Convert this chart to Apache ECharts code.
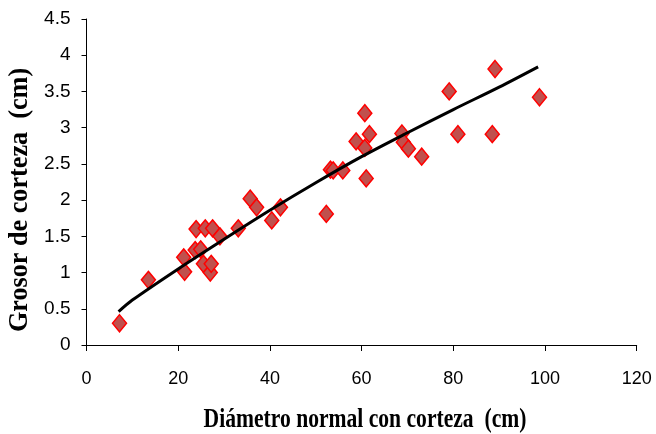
<!DOCTYPE html>
<html><head><meta charset="utf-8">
<script src="https://cdn.jsdelivr.net/npm/echarts@6/dist/echarts.min.js"></script>
<style>html,body{margin:0;padding:0;background:#fff}#c{width:656px;height:434px}</style>
</head><body><div id="c"></div>
<script>
// Observed data: diameter (cm) and bark thickness (cm)
const diametro = [7.2,13.5,21.2,21.4,23.9,25.9,27.5,29.1,23.7,24.9,25.5,27.0,27.2,33.1,35.7,37.1,40.4,42.3,52.3,53.2,53.8,55.9,61.0,58.8,60.7,61.7,60.7,68.8,69.1,70.2,73.1,79.1,81.0,88.5,89.1,98.8];
const grosor   = [0.30,0.90,1.21,1.01,1.60,1.61,1.61,1.50,1.31,1.32,1.12,1.00,1.12,1.61,2.02,1.90,1.72,1.90,1.81,2.42,2.41,2.41,2.30,2.81,3.20,2.91,2.72,2.92,2.80,2.71,2.60,3.50,2.91,2.91,3.81,3.42];
// Trend line
const trendX = [7,10,20,30,40,50,60,70,80,90,98.5];
const trendY = [0.46,0.62,1.05,1.46,1.86,2.24,2.60,2.93,3.25,3.56,3.84];
const xTitle = 'Diámetro normal con corteza  (cm)';
const yTitle = 'Grosor de corteza  (cm)';

const chart = echarts.init(document.getElementById('c'), null, {renderer:'canvas'});
const titleFont = 'bold 27px "Liberation Serif"';
chart.setOption({
  animation:false,
  grid:{left:86.5,right:19.3,top:19,bottom:89,containLabel:false},
  xAxis:{type:'value',min:0,max:120,interval:20,
    axisLine:{show:true,lineStyle:{color:'#000',width:1}},
    axisTick:{show:true,inside:false,length:6,lineStyle:{color:'#000'}},
    splitLine:{show:false},
    axisLabel:{color:'#000',fontFamily:'Liberation Sans',fontSize:18,margin:25}},
  yAxis:{type:'value',min:0,max:4.5,interval:0.5,
    axisLine:{show:true,lineStyle:{color:'#000',width:1}},
    axisTick:{show:true,inside:false,length:5,lineStyle:{color:'#000'}},
    splitLine:{show:false},
    axisLabel:{color:'#000',fontFamily:'Liberation Sans',fontSize:19,margin:16}},
  graphic:[
    {type:'text',x:365,y:420,scaleX:0.8,style:{text:xTitle,x:0,y:0,textAlign:'center',textVerticalAlign:'middle',font:titleFont,fill:'#000'}},
    {type:'text',x:20,y:200,rotation:Math.PI/2,scaleX:0.97,style:{text:yTitle,x:0,y:0,textAlign:'center',textVerticalAlign:'middle',font:titleFont,fill:'#000'}}
  ],
  series:[
    {type:'scatter',data:diametro.map((d,i)=>[d,grosor[i]]),symbol:'diamond',symbolSize:[14,17],
     itemStyle:{color:'#C0504D',borderColor:'#FF0000',borderWidth:1.5,opacity:1},z:2},
    {type:'line',data:trendX.map((d,i)=>[d,trendY[i]]),smooth:0.3,showSymbol:false,
     lineStyle:{color:'#000',width:3},z:3}
  ]
});
</script></body></html>
